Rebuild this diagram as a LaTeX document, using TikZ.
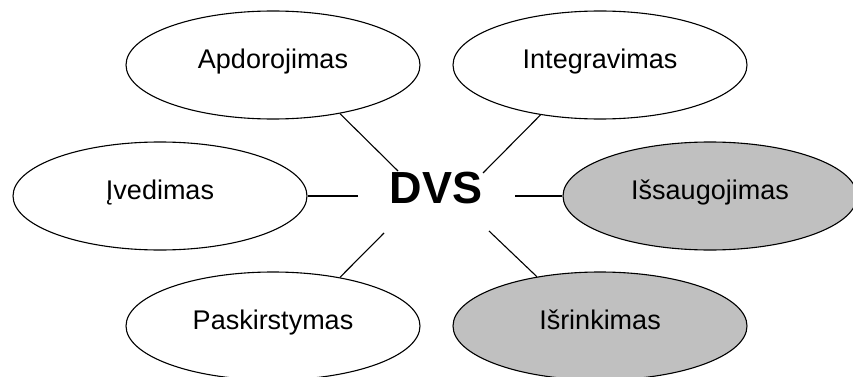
\documentclass[tikz,border=0pt]{standalone}
\usepackage{fontspec}
\setmainfont{Liberation Sans}
\usetikzlibrary{shapes.geometric}
\definecolor{shade}{HTML}{C0C0C0}
\begin{document}
\begin{tikzpicture}[x=1pt,y=-1pt,
  topic/.style={ellipse, draw=black, line width=1.1pt, fill=white,
    minimum width=294pt, minimum height=108pt, inner sep=0pt,
    font=\fontsize{27}{30}\selectfont, text height=0.72em, text depth=0pt},
  stored/.style={topic, fill=shade},
  link/.style={draw=black, line width=1.1pt}]
\useasboundingbox (0,0) rectangle (853,377);

% six surrounding tasks
\node[topic]  (apd) at (273,65)  {Apdorojimas};
\node[topic]  (int) at (600,65)  {Integravimas};
\node[topic]  (ived) at (160,196) {Įvedimas};
\node[stored] (sau) at (710,196) {Išsaugojimas};
\node[topic]  (pas) at (273,326) {Paskirstymas};
\node[stored] (isr) at (600,326) {Išrinkimas};

% central label
\node[font=\bfseries\fontsize{45}{50}\selectfont, text height=0.72em, text depth=0pt,
  inner sep=0pt] (dvs) at (436,199.5) {DVS};

% inner ends of the spokes
\coordinate (sUL) at (398,171);
\coordinate (sUR) at (483,173);
\coordinate (sL)  at (358,196);
\coordinate (sR)  at (515,196);
\coordinate (sLL) at (384,233);
\coordinate (sLR) at (489,231);

\path[link] (sUL) -- (apd.-36);
\path[link] (sUR) -- (int.-140);
\path[link] (sL)  -- (ived.east);
\path[link] (sR)  -- (sau.west);
\path[link] (sLL) -- (pas.36);
\path[link] (sLR) -- (isr.142);
\end{tikzpicture}
\end{document}
